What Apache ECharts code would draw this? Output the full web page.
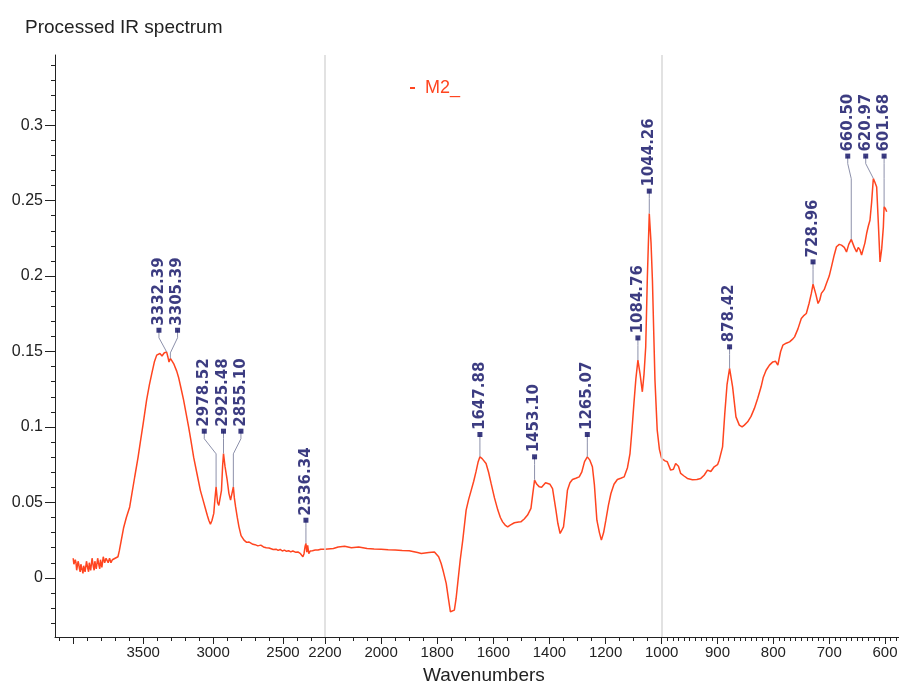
<!DOCTYPE html>
<html>
<head>
<meta charset="utf-8">
<title>Processed IR spectrum</title>
<script src="https://cdn.jsdelivr.net/npm/echarts@6/dist/echarts.min.js"></script>
<style>
  html, body { margin: 0; padding: 0; background: #fff; }
  #chart { width: 899px; height: 681px; }
</style>
</head>
<body>
<div id="chart"></div>
<script>
// spectrum, split by the three x-axis segments: [wavenumber, absorbance]
var spectrumHigh = [
  [4000, 0.013], [3995, 0.009], [3990, 0.008], [3985, 0.012], [3980, 0.010], [3975, 0.005],
  [3970, 0.006], [3965, 0.011], [3960, 0.009], [3955, 0.006], [3950, 0.004], [3945, 0.009],
  [3940, 0.008], [3935, 0.005], [3930, 0.003], [3925, 0.008], [3920, 0.009], [3915, 0.004],
  [3910, 0.005], [3905, 0.011], [3900, 0.010], [3895, 0.006], [3890, 0.004], [3885, 0.010],
  [3880, 0.011], [3875, 0.005], [3870, 0.006], [3865, 0.013], [3860, 0.012], [3855, 0.007],
  [3850, 0.005], [3845, 0.011], [3840, 0.010], [3835, 0.006], [3830, 0.007], [3825, 0.013],
  [3820, 0.014], [3815, 0.008], [3810, 0.006], [3805, 0.012], [3800, 0.011], [3795, 0.007],
  [3790, 0.008], [3785, 0.014], [3780, 0.015], [3775, 0.010], [3770, 0.009], [3765, 0.013],
  [3760, 0.012], [3750, 0.010], [3740, 0.013], [3730, 0.010], [3720, 0.012], [3710, 0.011],
  [3700, 0.013], [3690, 0.012], [3680, 0.014], [3670, 0.018], [3656, 0.025], [3640, 0.033],
  [3620, 0.040], [3596, 0.047], [3580, 0.056], [3560, 0.067], [3536, 0.080], [3520, 0.090],
  [3500, 0.102], [3475, 0.118], [3455, 0.128], [3439, 0.135], [3420, 0.143], [3403, 0.1476],
  [3390, 0.148], [3380, 0.1487], [3365, 0.147], [3350, 0.149], [3340, 0.148], [3332.39, 0.1498],
  [3322, 0.146], [3315, 0.143], [3305.39, 0.1454], [3295, 0.144], [3282, 0.142], [3271, 0.141],
  [3260, 0.137], [3247, 0.133], [3230, 0.126], [3211, 0.118], [3195, 0.110], [3175, 0.100],
  [3160, 0.092], [3139, 0.080], [3115, 0.069], [3091, 0.058], [3070, 0.051], [3055, 0.046],
  [3040, 0.041], [3030, 0.038], [3019, 0.0356], [3008, 0.038], [2995, 0.0427], [2987, 0.052],
  [2978.52, 0.0603], [2968, 0.050], [2959, 0.048], [2950, 0.047], [2940, 0.058], [2932, 0.074],
  [2925.48, 0.0824], [2915, 0.074], [2899, 0.0647], [2887, 0.056], [2875, 0.0515], [2866, 0.052],
  [2855.10, 0.0603], [2848, 0.053], [2839, 0.047], [2827, 0.040], [2815, 0.0338], [2800, 0.028],
  [2779, 0.025], [2760, 0.0235], [2745, 0.0238], [2731, 0.0228], [2715, 0.0222], [2700, 0.022],
  [2680, 0.0212], [2659, 0.0217], [2640, 0.0205], [2620, 0.020], [2600, 0.0198], [2586, 0.0195],
  [2570, 0.0188], [2550, 0.019], [2535, 0.0182], [2520, 0.0188], [2505, 0.0178], [2490, 0.0184],
  [2475, 0.0176], [2460, 0.018], [2445, 0.0172], [2430, 0.0178], [2412, 0.0170], [2394, 0.0172],
  [2375, 0.016], [2358, 0.0139], [2350, 0.016], [2342, 0.021], [2336.34, 0.0228], [2330, 0.017],
  [2324, 0.0215], [2316, 0.016], [2305, 0.0178], [2290, 0.018], [2270, 0.0185], [2250, 0.0184],
  [2230, 0.019], [2200, 0.019]
];

var spectrumMid = [
  [2200, 0.019], [2170, 0.0195], [2153, 0.0205], [2130, 0.021], [2106, 0.020], [2080, 0.0205],
  [2050, 0.0195], [2025, 0.0192], [2000, 0.019], [1975, 0.0186], [1950, 0.0185], [1925, 0.0182],
  [1900, 0.018], [1870, 0.0168], [1857, 0.0162], [1830, 0.0168], [1810, 0.0172], [1795, 0.014],
  [1786, 0.0095], [1778, 0.004], [1768, -0.0037], [1760, -0.014], [1753, -0.0225], [1746, -0.023],
  [1739, -0.0214], [1733, -0.014], [1727, -0.0037], [1718, 0.012], [1709, 0.025], [1697, 0.0449],
  [1688, 0.052], [1679, 0.058], [1670, 0.064], [1662, 0.0702], [1654, 0.077], [1647.88, 0.0802],
  [1640, 0.079], [1626, 0.0758], [1617, 0.070], [1608, 0.0626], [1596, 0.053], [1584, 0.0449],
  [1575, 0.040], [1567, 0.0371], [1558, 0.035], [1549, 0.0338], [1540, 0.035], [1525, 0.0365],
  [1510, 0.037], [1502, 0.0371], [1490, 0.039], [1478, 0.0416], [1466, 0.046], [1460, 0.055],
  [1453.10, 0.0647], [1445, 0.062], [1436, 0.0603], [1428, 0.060], [1421, 0.0603], [1414, 0.063],
  [1407, 0.0643], [1398, 0.062], [1389, 0.0592], [1383, 0.052], [1377, 0.0449], [1370, 0.036],
  [1362, 0.0294], [1356, 0.030], [1350, 0.0338], [1343, 0.045], [1336, 0.058], [1327, 0.063],
  [1318, 0.0652], [1306, 0.066], [1294, 0.0669], [1285, 0.070], [1275, 0.077], [1265.07, 0.0802],
  [1256, 0.078], [1247, 0.0736], [1240, 0.062], [1231, 0.0382], [1222, 0.030], [1215, 0.025],
  [1207, 0.030], [1199, 0.0382], [1190, 0.048], [1181, 0.0559], [1170, 0.062], [1158, 0.0652],
  [1146, 0.066], [1134, 0.0669], [1122, 0.073], [1113, 0.0824], [1106, 0.098], [1099, 0.1156],
  [1092, 0.132], [1084.76, 0.1443], [1077, 0.135], [1069, 0.1233], [1063, 0.135], [1057, 0.153],
  [1051, 0.200], [1044.26, 0.2415], [1038, 0.222], [1033, 0.197], [1028, 0.160], [1024, 0.131],
  [1016, 0.0979], [1008, 0.085], [1000, 0.0791]
];

var spectrumLow = [
  [1000, 0.0791], [994, 0.0775], [990, 0.0769], [984, 0.0714], [979, 0.072], [975, 0.0758],
  [970, 0.074], [966, 0.0692], [960, 0.0675], [954, 0.0659], [945, 0.065], [937, 0.0652],
  [930, 0.0659], [924, 0.068], [918, 0.0714], [912, 0.0705], [906, 0.0736], [900, 0.075],
  [897, 0.078], [891, 0.0868], [887, 0.109], [883, 0.128], [878.42, 0.1388], [873, 0.1266],
  [867, 0.1067], [861, 0.1012], [856, 0.100], [852, 0.1012], [846, 0.1034], [840, 0.107],
  [834, 0.1123], [828, 0.119], [822, 0.1266], [818, 0.133], [813, 0.1376], [807, 0.141],
  [801, 0.1431], [796, 0.1435], [792, 0.141], [787, 0.150], [783, 0.1542], [777, 0.1555],
  [771, 0.1564], [766, 0.158], [762, 0.1597], [756, 0.165], [750, 0.1719], [745, 0.174],
  [741, 0.1752], [736, 0.182], [732, 0.1885], [728.96, 0.1946], [724, 0.188], [720, 0.1818],
  [717, 0.184], [714, 0.1885], [709, 0.191], [705, 0.1951], [700, 0.200], [696, 0.2061],
  [691, 0.214], [687, 0.2194], [682, 0.221], [678, 0.2205], [673, 0.219], [669, 0.216],
  [665, 0.221], [660.50, 0.2243], [655, 0.219], [651, 0.216], [648, 0.219], [645, 0.2175],
  [642, 0.214], [639, 0.215], [636, 0.222], [633, 0.2282], [630, 0.233], [627, 0.237],
  [624, 0.249], [620.97, 0.2647], [618, 0.262], [615, 0.259], [612, 0.235], [609, 0.2094],
  [606, 0.218], [603, 0.2326], [601.68, 0.2459], [599, 0.2445], [597, 0.2426]
];

// picked peaks and where their flags sit
var peakWn   = [3332.39, 3305.39, 2978.52, 2925.48, 2855.10, 2336.34, 1647.88, 1453.10,
                1265.07, 1084.76, 1044.26, 878.42, 728.96, 660.50, 620.97, 601.68];
var flagWn   = [3387, 3254, 3063, 2925.48, 2801, 2336.34, 1647.88, 1453.10,
                1265.07, 1084.76, 1044.26, 878.42, 728.96, 666.8, 634.6, 601.68];
var flagAbs  = [0.1641, 0.1641, 0.0972, 0.0972, 0.0972, 0.0382, 0.095, 0.0802,
                0.095, 0.159, 0.2563, 0.1531, 0.2094, 0.2795, 0.2795, 0.2795];

// axis ticks
var yLabels = [0, 0.05, 0.1, 0.15, 0.2, 0.25, 0.3];
var xLabelsHigh = [3500, 3000, 2500];
var xMajorHigh = [4000, 3500, 3000, 2500];
var xLabelsMid = [2200, 2000, 1800, 1600, 1400, 1200, 1000];
var xLabelsLow = [900, 800, 700, 600];

function steps(from, to, step, skipEvery) {
  var out = [];
  for (var v = from; v <= to + 1e-9; v += step) {
    var r = Math.round(v * 1000) / 1000;
    if (Math.abs(r / skipEvery - Math.round(r / skipEvery)) > 1e-6) out.push(r);
  }
  return out;
}
var xMinorHigh = steps(2300, 4100, 100, 500);
var xMinorMid = steps(1050, 2150, 50, 200);
var xMinorLow = steps(580, 990, 10, 100);
var yMinor = steps(-0.03, 0.34, 0.01, 0.05);

var lineColor = '#ff4520';
var flagColor = '#0b0b62';
var font = 'Liberation Sans, Arial, sans-serif';
var yMin = -0.0392, yMax = 0.3465;

var segments = [
  { data: spectrumHigh, min: 2200, max: 4130, labels: xLabelsHigh, major: xMajorHigh, minor: xMinorHigh },
  { data: spectrumMid, min: 1000, max: 2200, labels: xLabelsMid, major: xLabelsMid, minor: xMinorMid },
  { data: spectrumLow, min: 575, max: 1000, labels: xLabelsLow, major: xLabelsLow, minor: xMinorLow }
];
var layout = [
  { left: 55, width: 270 },
  { left: 325, width: 336.7 },
  { left: 661.7, width: 237.3 }
];

function absAt(data, w) {
  var best = data[0];
  data.forEach(function (p) { if (Math.abs(p[0] - w) < Math.abs(best[0] - w)) best = p; });
  return best[1];
}
function segOf(w) { return w > 2200 ? 0 : (w > 1000 ? 1 : 2); }

var grids = [], xAxes = [], yAxes = [], series = [];

segments.forEach(function (s, i) {
  grids.push({ left: layout[i].left, width: layout[i].width, top: 55, bottom: 44,
               containLabel: false, outerBoundsMode: 'none' });
  // main x axis: line, long ticks, labels
  xAxes.push({
    type: 'value', gridIndex: i, inverse: true, min: s.min, max: s.max, position: 'bottom',
    axisLine: { onZero: false, lineStyle: { color: '#222', width: 1 } },
    axisTick: { show: true, customValues: s.major, length: 7, lineStyle: { color: '#222' } },
    axisLabel: { customValues: s.labels, margin: 8, color: '#222', fontSize: 15, fontFamily: font,
                 formatter: function (v) { return String(v); } },
    splitLine: { show: false }
  });
  // overlay axis for the short ticks
  xAxes.push({
    type: 'value', gridIndex: i, inverse: true, min: s.min, max: s.max, position: 'bottom',
    axisLine: { show: false, onZero: false },
    axisTick: { show: true, customValues: s.minor, length: 4, lineStyle: { color: '#222' } },
    axisLabel: { show: false },
    splitLine: { show: false }
  });
});

yAxes.push({
  type: 'value', gridIndex: 0, min: yMin, max: yMax, position: 'left',
  axisLine: { show: true, onZero: false, lineStyle: { color: '#222' } },
  axisTick: { show: true, customValues: yLabels, length: 10, lineStyle: { color: '#222' } },
  axisLabel: { customValues: yLabels, margin: 12, color: '#222', fontSize: 16, fontFamily: font,
               formatter: function (v) { return String(+v.toFixed(3)); } },
  splitLine: { show: false }
});
yAxes.push({
  type: 'value', gridIndex: 0, min: yMin, max: yMax, position: 'left',
  axisLine: { show: false, onZero: false },
  axisTick: { show: true, customValues: yMinor, length: 4, lineStyle: { color: '#222' } },
  axisLabel: { show: false },
  splitLine: { show: false }
});
yAxes.push({ type: 'value', gridIndex: 1, min: yMin, max: yMax, show: false });
yAxes.push({ type: 'value', gridIndex: 2, min: yMin, max: yMax, show: false });

function yIndex(i) { return i === 0 ? 0 : i + 1; }

segments.forEach(function (s, i) {
  var line = {
    name: 'M2_', type: 'line', xAxisIndex: 2 * i, yAxisIndex: yIndex(i),
    data: s.data, showSymbol: false, smooth: false, z: 3,
    lineStyle: { color: lineColor, width: 1.5 }, itemStyle: { color: lineColor }
  };
  if (i === 1) {
    line.markLine = {
      silent: true, symbol: ['none', 'none'], label: { show: false },
      lineStyle: { color: '#d9d9d9', type: 'solid', width: 1.5 },
      data: [{ xAxis: 2200 }, { xAxis: 1000 }]
    };
  }
  series.push(line);

  var leaders = [], flags = [];
  peakWn.forEach(function (w, k) {
    if (segOf(w) !== i) return;
    var pa = absAt(s.data, w);
    var fw = flagWn[k], fa = flagAbs[k];
    var knee = Math.max(pa, fa - 0.015);
    leaders.push({ coords: [[fw, fa], [fw, fa - 0.005], [w, knee], [w, pa]] });
    flags.push([fw, fa, w.toFixed(2)]);
  });
  series.push({
    type: 'lines', coordinateSystem: 'cartesian2d', xAxisIndex: 2 * i, yAxisIndex: yIndex(i),
    polyline: true, silent: true, z: 4,
    lineStyle: { color: '#8d91ab', width: 1, opacity: 1 },
    data: leaders
  });
  series.push({
    type: 'scatter', xAxisIndex: 2 * i, yAxisIndex: yIndex(i), z: 5,
    symbol: 'rect', symbolSize: 5, itemStyle: { color: flagColor },
    label: {
      show: true, position: 'top', distance: 2, rotate: 90, align: 'left', verticalAlign: 'middle',
      color: flagColor, fontSize: 15, fontWeight: 'bold', fontFamily: 'DejaVu Sans',
      formatter: function (p) { return p.data[2]; }
    },
    data: flags
  });
});

var chart = echarts.init(document.getElementById('chart'));
chart.setOption({
  animation: false,
  backgroundColor: '#fff',
  title: [
    { text: 'Processed IR spectrum', left: 20, top: 13,
      textStyle: { fontSize: 19, fontWeight: 'normal', color: '#222', fontFamily: font } },
    { text: 'Wavenumbers', left: 418, top: 661,
      textStyle: { fontSize: 19, fontWeight: 'normal', color: '#222', fontFamily: font } }
  ],
  legend: {
    data: ['M2_'], left: 410, top: 79, padding: 0,
    icon: 'rect', itemWidth: 5, itemHeight: 2,
    textStyle: { fontSize: 18, color: lineColor, fontFamily: font, padding: [0, 0, 0, 5] }
  },
  grid: grids,
  xAxis: xAxes,
  yAxis: yAxes,
  series: series
});
</script>
</body>
</html>
